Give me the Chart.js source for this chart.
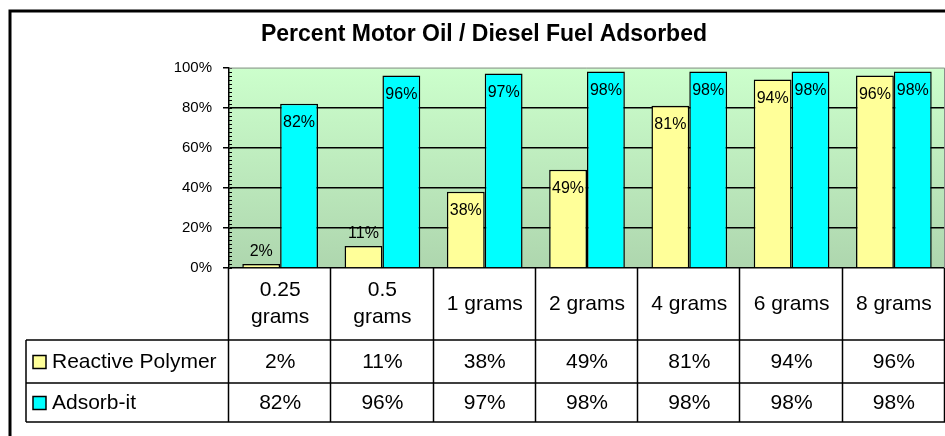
<!DOCTYPE html>
<html>
<head>
<meta charset="utf-8">
<script src="https://cdn.jsdelivr.net/npm/chart.js@4"></script>
<style>
  html, body { margin: 0; padding: 0; background: #fff; }
  #wrap { width: 945px; height: 436px; }
</style>
</head>
<body>
<div id="wrap"><canvas id="oilChart" width="945" height="436"></canvas></div>
<script>
const categories = [['0.25', 'grams'], ['0.5', 'grams'], ['1 grams'], ['2 grams'], ['4 grams'], ['6 grams'], ['8 grams']];
const polymerValues = [2, 11, 38, 49, 81, 94, 96];
const adsorbValues = [82, 96, 97, 98, 98, 98, 98];
const seriesNames = ['Reactive Polymer', 'Adsorb-it'];
const seriesColors = ['#FFFF99', '#00FFFF'];
const yTicks = [0, 20, 40, 60, 80, 100];

// green gradient behind the bars + outer frame
const backdrop = {
  id: 'backdrop',
  beforeDraw(chart) {
    const c = chart.ctx, a = chart.chartArea;
    c.save();
    c.fillStyle = '#fff';
    c.fillRect(0, 0, chart.width, chart.height);
    c.strokeStyle = '#000';
    c.lineWidth = 3;
    c.strokeRect(10, 11, chart.width + 20, chart.height + 20);
    const g = c.createLinearGradient(0, a.top, 0, a.bottom);
    g.addColorStop(0, '#CCFFCC');
    g.addColorStop(1, '#AED6AE');
    c.fillStyle = g;
    c.fillRect(a.left, a.top, a.right - a.left, a.bottom - a.top);
    c.restore();
  },
  beforeDatasetsDraw(chart) {
    // minor ticks on the value axis + gray plot border
    const c = chart.ctx, a = chart.chartArea, y = chart.scales.y;
    c.save();
    c.strokeStyle = '#000';
    c.lineWidth = 1;
    c.beginPath();
    for (let v = 0; v <= 100; v += 2) {
      const py = Math.round(y.getPixelForValue(v)) + 0.5;
      c.moveTo(a.left, py);
      c.lineTo(a.left + 3, py);
    }
    c.stroke();
    c.strokeStyle = '#8c8c8c';
    c.beginPath();
    c.moveTo(a.left, a.top + 0.5);
    c.lineTo(a.right - 0.5, a.top + 0.5);
    c.lineTo(a.right - 0.5, a.bottom);
    c.stroke();
    c.restore();
  }
};

// value labels on the columns
const barLabels = {
  id: 'barLabels',
  afterDatasetsDraw(chart) {
    const c = chart.ctx;
    c.save();
    c.font = '16px "Liberation Sans", Arial, sans-serif';
    c.fillStyle = '#000';
    c.textAlign = 'center';
    c.textBaseline = 'middle';
    chart.data.datasets.forEach((ds, di) => {
      chart.getDatasetMeta(di).data.forEach((bar, i) => {
        const h = bar.base - bar.y;
        const ty = h > 28 ? bar.y + 19 : bar.y - 12;
        c.fillText(ds.data[i] + '%', bar.x, ty);
      });
    });
    c.restore();
  }
};

// Excel style data table under the plot
const dataTable = {
  id: 'dataTable',
  afterDraw(chart) {
    const c = chart.ctx, x = chart.scales.x, a = chart.chartArea;
    const n = categories.length;
    const cw = (x.right - x.left) / n;
    const top = a.bottom, hdrBottom = top + 72, rowH = [43, 39];
    const tableLeft = 26;
    const rowTops = [hdrBottom, hdrBottom + rowH[0]];
    const tableBottom = hdrBottom + rowH[0] + rowH[1];
    const rows = [polymerValues, adsorbValues];
    c.save();
    c.strokeStyle = '#000';
    c.lineWidth = 1.5;
    c.beginPath();
    // verticals
    for (let i = 0; i <= n; i++) {
      const px = Math.round(x.left + i * cw) - 0.5;
      c.moveTo(px, top);
      c.lineTo(px, tableBottom);
    }
    c.moveTo(tableLeft, hdrBottom);
    c.lineTo(tableLeft, tableBottom);
    // horizontals
    [hdrBottom, rowTops[1], tableBottom].forEach(py => {
      c.moveTo(tableLeft, py);
      c.lineTo(x.right, py);
    });
    c.stroke();

    c.fillStyle = '#000';
    c.font = '21px "Liberation Sans", Arial, sans-serif';
    c.textAlign = 'center';
    c.textBaseline = 'middle';
    // category header
    categories.forEach((lab, i) => {
      const cx = x.left + i * cw + cw / 2;
      const mid = (top + hdrBottom) / 2;
      lab.forEach((line, k) => {
        c.fillText(line, cx, mid + (k - (lab.length - 1) / 2) * 27);
      });
    });
    // series rows
    rows.forEach((vals, r) => {
      const cy = rowTops[r] + rowH[r] / 2 + 1;
      vals.forEach((v, i) => {
        c.fillText(v + '%', x.left + i * cw + cw / 2, cy);
      });
      c.fillStyle = seriesColors[r];
      c.fillRect(33, cy - 7, 13, 13);
      c.strokeRect(33, cy - 7, 13, 13);
      c.fillStyle = '#000';
      c.textAlign = 'left';
      c.fillText(seriesNames[r], 52, cy);
      c.textAlign = 'center';
    });
    c.restore();
  }
};

new Chart(document.getElementById('oilChart'), {
  type: 'bar',
  data: {
    labels: categories,
    datasets: [{
      label: seriesNames[0],
      data: polymerValues,
      backgroundColor: seriesColors[0],
      borderColor: '#000',
      borderWidth: 1.5
    }, {
      label: seriesNames[1],
      data: adsorbValues,
      backgroundColor: seriesColors[1],
      borderColor: '#000',
      borderWidth: 1.5
    }]
  },
  options: {
    responsive: false,
    animation: false,
    layout: { padding: { left: 23, right: 0, top: 0, bottom: 168 } },
    datasets: { bar: { categoryPercentage: 0.74, barPercentage: 1 } },
    plugins: {
      legend: { display: false },
      tooltip: { enabled: false },
      title: {
        display: true,
        text: 'Percent Motor Oil / Diesel Fuel Adsorbed',
        color: '#000',
        font: { family: '"Liberation Sans", Arial, sans-serif', size: 23, weight: 'bold' },
        padding: { top: 21, bottom: 19 }
      }
    },
    scales: {
      x: { display: false },
      y: {
        min: 0,
        max: 100,
        afterFit(scale) { scale.width = 206; },
        afterBuildTicks(scale) { scale.ticks = yTicks.map(v => ({ value: v })); },
        ticks: {
          color: '#000',
          padding: 11,
          font: { family: '"Liberation Sans", Arial, sans-serif', size: 15 },
          callback: v => v + '%'
        },
        grid: {
          color: ctx => ctx.tick && ctx.tick.value === 100 ? 'rgba(0,0,0,0)' : '#000',
          lineWidth: 1.5,
          tickLength: 6,
          tickColor: '#000'
        },
        border: { color: '#000', width: 1.5 }
      }
    }
  },
  plugins: [backdrop, barLabels, dataTable]
});
</script>
</body>
</html>
